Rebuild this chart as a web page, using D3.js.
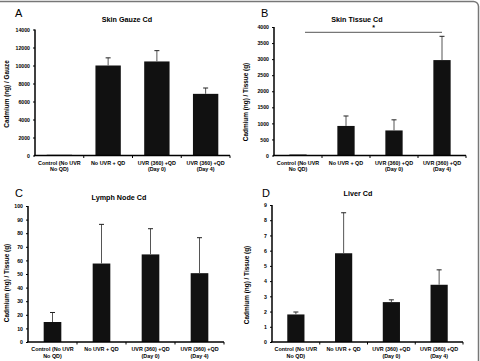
<!DOCTYPE html>
<html><head><meta charset="utf-8">
<script src="https://cdn.jsdelivr.net/npm/d3@7"></script>
<style>body{margin:0;background:#fff}svg{display:block}text{font-family:"Liberation Sans",Arial,sans-serif}</style>
</head><body><svg id="c" width="480" height="361"></svg>
<script>
const categories = [["Control (No UVR","No QD)"],["No UVR + QD"],["UVR (360) +QD","(Day 0)"],["UVR (360) +QD","(Day 4)"]];
const gauzeMean = [80, 10000, 10450, 6850];
const gauzeSD = [0, 850, 1200, 650];
const gauzeTicks = [0,2000,4000,6000,8000,10000,12000,14000];
const tissueMean = [30, 920, 780, 2970];
const tissueSD = [0, 310, 330, 740];
const tissueTicks = [0,500,1000,1500,2000,2500,3000,3500,4000];
const lymphMean = [14.7, 57.7, 64.4, 50.6];
const lymphSD = [7, 28.8, 18.9, 26.1];
const lymphTicks = [0,10,20,30,40,50,60,70,80,90,100];
const liverMean = [1.81, 5.83, 2.62, 3.76];
const liverSD = [0.16, 2.66, 0.15, 0.98];
const liverTicks = [0,1,2,3,4,5,6,7,8,9];

const svg = d3.select("#c");
svg.append("path").attr("d","M0,1.5 H473 A5,5 0 0 1 478.5,6.5 V361").attr("fill","none").attr("stroke","#777").attr("stroke-width",1.5);

const panels = [
 {letter:"A", lx:15, ly:17, title:"Skin Gauze Cd", tx:127, ty:22, ylab:"Cadmium (ng) / Gauze", ylx:9, yly:94,
  x0:35, x1:230, y0:155.5, y1:29.5, pad:0.48, mean:gauzeMean, sd:gauzeSD, ticks:gauzeTicks},
 {letter:"B", lx:261, ly:17, title:"Skin Tissue Cd", tx:357, ty:21.5, ylab:"Cadmium (ng) / Tissue (g)", ylx:248, yly:102,
  x0:274, x1:466, y0:155.5, y1:27, pad:0.64, mean:tissueMean, sd:tissueSD, ticks:tissueTicks, sig:3830},
 {letter:"C", lx:15, ly:197, title:"Lymph Node Cd", tx:119, ty:200, ylab:"Cadmium (ng) / Tissue (g)", ylx:9, yly:283,
  x0:28, x1:224, y0:342, y1:206, pad:0.64, mean:lymphMean, sd:lymphSD, ticks:lymphTicks},
 {letter:"D", lx:262, ly:197, title:"Liver Cd", tx:358, ty:196, ylab:"Cadmium (ng) / Tissue (g)", ylx:249, yly:285,
  x0:272, x1:463, y0:342, y1:205, pad:0.64, mean:liverMean, sd:liverSD, ticks:liverTicks}
];

panels.forEach(p => {
  const g = svg.append("g");
  const x = d3.scaleBand().domain(d3.range(4)).range([p.x0, p.x1]).paddingInner(p.pad).paddingOuter(p.pad/2);
  const xb = d3.scaleBand().domain(d3.range(4)).range([p.x0, p.x1]);
  const y = d3.scaleLinear().domain([0, p.ticks[p.ticks.length-1]]).range([p.y0, p.y1]);

  g.append("text").attr("x",p.lx).attr("y",p.ly).attr("font-size",11).text(p.letter);
  g.append("text").attr("x",p.tx).attr("y",p.ty).attr("text-anchor","middle").attr("font-size",7.2).attr("font-weight","bold").text(p.title);
  g.append("text").attr("transform",`translate(${p.ylx},${p.yly}) rotate(-90)`).attr("text-anchor","middle").attr("font-size",6.4).attr("font-weight","bold").text(p.ylab);

  g.selectAll("rect.bar").data(p.mean).enter().append("rect")
    .attr("x",(d,i)=>x(i)).attr("width",x.bandwidth())
    .attr("y",d=>y(d)).attr("height",d=>p.y0-y(d)).attr("fill","#111");
  p.mean.forEach((m,i)=>{
    if(p.sd[i] <= 0) return;
    const cx = xb(i)+xb.bandwidth()/2;
    g.append("line").attr("x1",cx).attr("x2",cx).attr("y1",y(m)).attr("y2",y(m+p.sd[i])).attr("stroke","#555").attr("stroke-width",1);
    g.append("line").attr("x1",cx-2.5).attr("x2",cx+2.5).attr("y1",y(m+p.sd[i])).attr("y2",y(m+p.sd[i])).attr("stroke","#222").attr("stroke-width",1);
  });

  const ya = d3.axisLeft(y).tickValues(p.ticks).tickSize(2).tickPadding(3).tickFormat(d3.format("d"));
  const yg = g.append("g").attr("transform",`translate(${p.x0},0)`).call(ya);
  yg.select(".domain").attr("stroke","#000").attr("stroke-width",1.5).attr("d",`M0,${p.y0}V${p.y1}`);
  yg.selectAll(".tick line").attr("stroke","#000");
  yg.selectAll(".tick text").attr("font-size",5.2).attr("font-weight","bold").attr("font-family","Liberation Sans, Arial, sans-serif");

  const xg = g.append("g");
  xg.append("line").attr("x1",p.x0-1).attr("x2",p.x1).attr("y1",p.y0).attr("y2",p.y0).attr("stroke","#000").attr("stroke-width",1.5);
  d3.range(1,5).forEach(i=>{
    const tx = xb(i-1)+xb.bandwidth();
    xg.append("line").attr("x1",tx).attr("x2",tx).attr("y1",p.y0).attr("y2",p.y0+2.5).attr("stroke","#000");
  });
  categories.forEach((lines,i)=>{
    const cx = xb(i)+xb.bandwidth()/2;
    const t = xg.append("text").attr("text-anchor","middle").attr("font-size",5.4).attr("font-weight","bold");
    lines.forEach((s,j)=> t.append("tspan").attr("x",cx).attr("y",p.y0+9+j*6.8).text(s));
  });

  if(p.sig){
    const sy = y(p.sig);
    const xs = xb(0)+xb.bandwidth()/2+7, xe = xb(3)+xb.bandwidth()/2;
    g.append("line").attr("x1",xs).attr("x2",xe).attr("y1",sy).attr("y2",sy).attr("stroke","#777").attr("stroke-width",1.2);
    g.append("text").attr("x",(xs+xe)/2).attr("y",sy-2).attr("text-anchor","middle").attr("font-size",7).attr("font-weight","bold").text("*");
  }
});
</script></body></html>
